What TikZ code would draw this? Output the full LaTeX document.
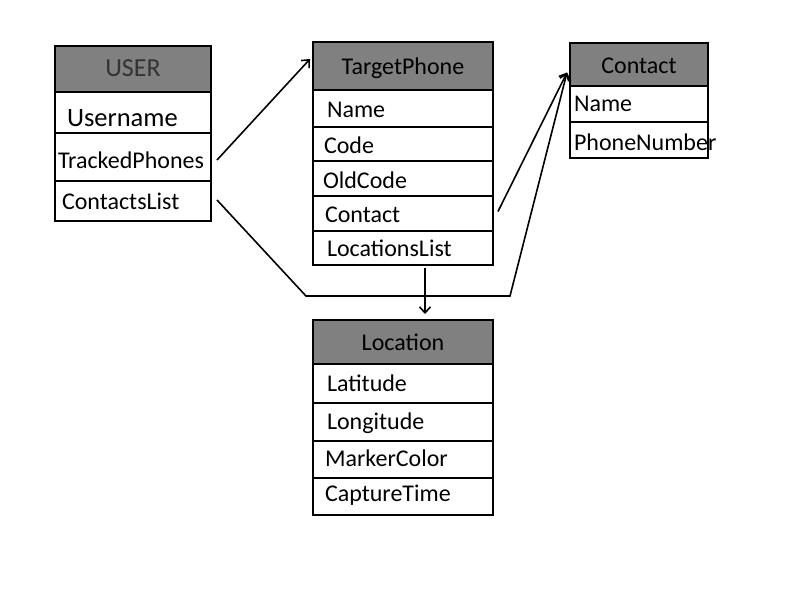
\documentclass[tikz,border=0pt]{standalone}
\usepackage{fontspec}
\setmainfont{Carlito}
\usetikzlibrary{arrows.meta}
\definecolor{hdr}{RGB}{128,128,128}
\begin{document}
\begin{tikzpicture}[x=1pt,y=-1pt,
  cell/.style={draw=black, line width=1.6pt, inner ysep=0pt, outer sep=0pt, text depth=0pt,
    anchor=north west, align=left, font=\fontsize{24}{28}\selectfont},
  head/.style={draw=black, line width=1.8pt, fill=hdr, inner sep=0pt, outer sep=0pt, text depth=0pt,
    anchor=north west, align=center, font=\fontsize{24}{28}\selectfont},
  conn/.style={line width=1.6pt, -{Straight Barb[length=6pt,width=11pt]}}]
\useasboundingbox (0,0) rectangle (800,600);

% USER
\node[head, minimum width=156pt, minimum height=46pt, text=black!80, text height=14pt, font=\fontsize{26}{30}\selectfont] (uhead) at (55,46) {USER};
\node[cell, minimum height=41pt, inner xsep=12pt, text width=132pt, text height=28.4pt, font=\fontsize{26.5}{30}\selectfont] (uname) at (55,92) {Username};
\node[cell, minimum height=48pt, inner xsep=3pt, text width=150pt, text height=22.6pt] (utrack) at (55,133) {TrackedPhones};
\node[cell, minimum height=40pt, inner xsep=7pt, text width=142pt, text height=16pt] (ucl) at (55,181) {ContactsList};

% TargetPhone
\node[head, minimum width=180pt, minimum height=48pt, text height=16.6pt] (tphead) at (313,42) {TargetPhone};
\node[cell, minimum height=37pt, inner xsep=14pt, text width=152pt, text height=17.6pt] (tpname) at (313,90) {Name};
\node[cell, minimum height=34pt, inner xsep=11pt, text width=158pt, text height=18.6pt] (tpcode) at (313,127) {Code};
\node[cell, minimum height=35pt, inner xsep=10pt, text width=160pt, text height=19.3pt] (tpold) at (313,161) {OldCode};
\node[cell, minimum height=35pt, inner xsep=12pt, text width=156pt, text height=18.3pt] (tpcontact) at (313,196) {Contact};
\node[cell, minimum height=34pt, inner xsep=14pt, text width=152pt, text height=16pt] (tploc) at (313,231) {LocationsList};

% Contact
\node[head, minimum width=138pt, minimum height=43pt, text height=18pt] (chead) at (570,43) {Contact};
\node[cell, minimum height=36pt, inner xsep=4pt, text width=130pt, text height=14pt] (cname) at (570,86) {Name};
\node[cell, minimum height=36pt, inner xsep=4pt, text width=130pt, text height=20pt] (cphone) at (570,122) {PhoneNumber};

% Location
\node[head, minimum width=180pt, minimum height=44pt, text height=16.5pt] (lhead) at (313,320) {Location};
\node[cell, minimum height=39pt, inner xsep=14pt, text width=152pt, text height=16.5pt] (llat) at (313,364) {Latitude};
\node[cell, minimum height=38pt, inner xsep=14pt, text width=152pt, text height=14pt] (llon) at (313,403) {Longitude};
\node[cell, minimum height=37pt, inner xsep=12pt, text width=156pt, text height=13pt] (lmark) at (313,441) {MarkerColor};
\node[cell, minimum height=37pt, inner xsep=12pt, text width=156pt, text height=10pt] (lcap) at (313,478) {CaptureTime};

% connectors
\coordinate (k1) at (306,296);
\coordinate (k2) at (510,296);
\draw[conn] ([xshift=6pt,yshift=-3pt]utrack.east) -- ([xshift=-3pt,yshift=7pt]tphead.west);
\draw[conn] ([xshift=5pt,yshift=2pt]tpcontact.east) -- ([xshift=-3pt,yshift=-8pt]chead.west);
\draw[conn] ([xshift=6pt,yshift=1pt]ucl.east) -- (k1) -- (k2) -- ([xshift=-3pt,yshift=-8pt]chead.west);
\draw[conn] ([xshift=22pt,yshift=-3pt]tploc.south) -- ([xshift=22pt,yshift=6pt]lhead.north);
\end{tikzpicture}
\end{document}
